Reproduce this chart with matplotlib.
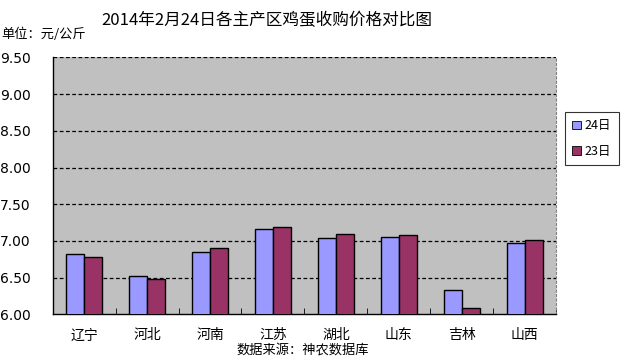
import matplotlib
matplotlib.use("Agg")
import matplotlib.pyplot as plt
import numpy as np
from matplotlib.patches import Patch

plt.rcParams['font.family'] = ['Noto Sans CJK SC', 'DejaVu Sans']

categories = ['辽宁', '河北', '河南', '江苏', '湖北', '山东', '吉林', '山西']
series_names = ['24日', '23日']
values_24 = [6.82, 6.53, 6.85, 7.17, 7.04, 7.05, 6.33, 6.97]
values_23 = [6.78, 6.48, 6.91, 7.19, 7.09, 7.08, 6.09, 7.02]
yticks = [6.0, 6.5, 7.0, 7.5, 8.0, 8.5, 9.0, 9.5]
colors = ['#9999FF', '#993366']

fig = plt.figure(figsize=(6.27, 3.61), dpi=100)
fig.patch.set_facecolor('white')
ax = fig.add_axes([0.084, 0.129, 0.803, 0.712])
ax.set_facecolor('#C0C0C0')

x = np.arange(len(categories))
w = 0.285
ax.bar(x - w/2, values_24, w, color=colors[0], edgecolor='black', linewidth=1.0, zorder=3)
ax.bar(x + w/2, values_23, w, color=colors[1], edgecolor='black', linewidth=1.0, zorder=3)

ax.set_ylim(6.0, 9.5)
ax.set_xlim(-0.5, len(categories) - 0.5)
ax.set_yticks(yticks)
ax.set_yticklabels([f'{v:.2f}' for v in yticks], family='DejaVu Sans', fontsize=10)
for v in yticks[1:]:
    ax.axhline(v, color='black', linestyle=(0, (3, 2)), linewidth=0.9, zorder=1)

ax.set_xticks(x)
ax.set_xticklabels(categories, fontsize=10)
ax.set_xticks(np.arange(len(categories) + 1) - 0.5, minor=True)
ax.tick_params(axis='x', which='major', length=0, pad=10)
ax.tick_params(axis='x', which='minor', direction='in', length=4, color='black')
ax.tick_params(axis='y', length=0, pad=16)

ax.spines['left'].set_color('black')
ax.spines['bottom'].set_color('black')
ax.spines['left'].set_linewidth(1.0)
ax.spines['bottom'].set_linewidth(1.0)
ax.spines['top'].set_visible(False)
ax.spines['right'].set_color('#808080')
ax.spines['right'].set_linestyle((0, (2, 2)))
ax.spines['right'].set_linewidth(0.8)

fig.text(0.426, 0.943, '2014年2月24日各主产区鸡蛋收购价格对比图', ha='center', va='center', fontsize=12)
fig.text(0.002, 0.905, '单位：元/公斤', ha='left', va='center', fontsize=9.5)
fig.text(0.483, 0.03, '数据来源：神农数据库', ha='center', va='center', fontsize=9.5)

handles = [Patch(facecolor=colors[i], edgecolor='black', linewidth=0.6) for i in range(2)]
leg = fig.legend(handles, series_names, loc='center', bbox_to_anchor=(0.944, 0.616),
                 frameon=True, fancybox=False, edgecolor='black', fontsize=9,
                 handlelength=0.7, handleheight=0.7, handletextpad=0.3, labelspacing=1.0,
                 borderpad=0.6)
leg.get_frame().set_linewidth(0.8)

fig.savefig('out.png', dpi=100)
